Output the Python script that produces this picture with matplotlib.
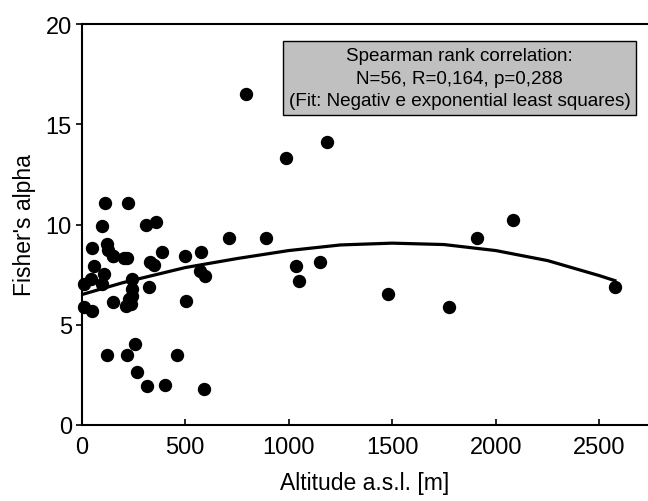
import matplotlib
matplotlib.use("Agg")
import matplotlib.pyplot as plt

plt.rcParams["font.family"] = ["Liberation Sans", "DejaVu Sans"]

# altitude (m) and Fisher's alpha per site
altitude = [13, 45, 13, 53, 53, 61, 101, 110, 101, 113,
            122, 130, 150, 150, 203, 222, 225, 214, 238, 246,
            246, 246, 230, 311, 362, 324, 332, 348, 391, 498,
            506, 575, 573, 594, 712, 892, 792, 989, 1185, 1037,
            1048, 1153, 1480, 1773, 1907, 2084, 2575, 122, 219, 257,
            459, 267, 314, 402, 593, 150]
alpha = [7.03, 7.3, 5.87, 5.7, 8.81, 7.91, 7.03, 7.53, 9.91, 11.07,
         9.03, 8.75, 8.45, 6.15, 8.33, 8.33, 11.07, 5.95, 6.03, 7.3,
         6.78, 6.45, 6.3, 10.0, 10.1, 6.9, 8.14, 7.98, 8.64, 8.41,
         6.2, 8.61, 7.7, 7.42, 9.31, 9.31, 16.5, 13.3, 14.1, 7.92,
         7.2, 8.11, 6.53, 5.9, 9.31, 10.2, 6.87, 3.5, 3.5, 4.04,
         3.5, 2.63, 1.93, 2.01, 1.8, 8.45]

# fitted curve (negative exponential smoothing)
fit_x = [0, 100, 200, 300, 400, 500, 750, 1000, 1250, 1500,
         1750, 2000, 2250, 2500, 2575]
fit_y = [6.5, 6.8, 7.1, 7.35, 7.6, 7.85, 8.3, 8.7, 8.98, 9.07,
         9.0, 8.7, 8.2, 7.45, 7.2]

stats_text = ("Spearman rank correlation:\n"
              "N=56, R=0,164, p=0,288\n"
              "(Fit: Negativ e exponential least squares)")

fig = plt.figure(figsize=(6.48, 5.02), dpi=100)
ax = fig.add_axes([81.5 / 648, 1 - 426 / 502, (647 - 81.5) / 648, (426 - 25) / 502])

ax.scatter(altitude, alpha, s=74, color="black", zorder=3, clip_on=False)
ax.plot(fit_x, fit_y, color="black", lw=2.3, zorder=2)

ax.set_xlim(0, 2730)
ax.set_ylim(0, 20)
ax.set_xticks([0, 500, 1000, 1500, 2000, 2500])
ax.set_yticks([0, 5, 10, 15, 20])
ax.tick_params(axis="x", direction="in", length=4, width=1.2, pad=8, labelsize=17)
ax.tick_params(axis="y", direction="out", length=4, width=1.2, pad=3, labelsize=17)
for side in ["left", "bottom", "top"]:
    ax.spines[side].set_linewidth(1.5)
ax.spines["right"].set_visible(False)

ax.set_xlabel("Altitude a.s.l. [m]", fontsize=16.5, labelpad=9)
ax.set_ylabel("Fisher's alpha", fontsize=16.5, labelpad=7)

ax.text(0.669, 0.865, stats_text, transform=ax.transAxes, ha="center", va="center",
        fontsize=13.6, linespacing=1.45,
        bbox=dict(boxstyle="square,pad=0.3", facecolor="#c0c0c0",
                  edgecolor="black", linewidth=1.0))

fig.savefig("out.png", dpi=100)
